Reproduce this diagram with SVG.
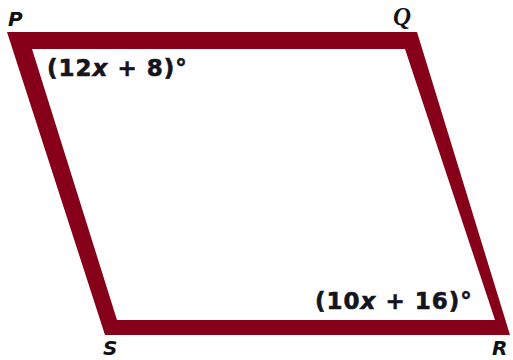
<svg xmlns="http://www.w3.org/2000/svg" width="513" height="360" viewBox="0 0 513 360">
<style>
.frame{fill:#860019;fill-rule:evenodd}
.ang{font-family:"DejaVu Sans",Verdana,sans-serif;font-weight:bold;font-size:23px;letter-spacing:1px;fill:#14141e;stroke:#14141e;stroke-width:0.6px}
.lbl{font-family:"DejaVu Sans",sans-serif;font-weight:bold;font-style:italic;font-size:20px;fill:#111}
.lblq{font-family:"Liberation Serif",serif;font-weight:bold;font-style:italic;font-size:25px;fill:#111}
</style>
<rect width="513" height="360" fill="#fff"/>
<g id="parallelogram">
<path class="frame" d="M7,32 L417,32 L510,335 L105,335 Z M32,49 L405,49 L495,320 L117,320 Z"/>
</g>
<g id="vertex-P"><text class="lbl" x="8" y="26">P</text></g>
<g id="vertex-Q"><text class="lblq" x="393" y="25">Q</text></g>
<g id="vertex-S"><text class="lbl" x="103" y="355">S</text></g>
<g id="vertex-R"><text class="lbl" x="492" y="355">R</text></g>
<g id="angle-P"><text class="ang" x="47" y="76">(12<tspan font-style="italic">x</tspan> + 8)°</text></g>
<g id="angle-R"><text class="ang" x="315" y="309">(10<tspan font-style="italic">x</tspan> + 16)°</text></g>
</svg>
